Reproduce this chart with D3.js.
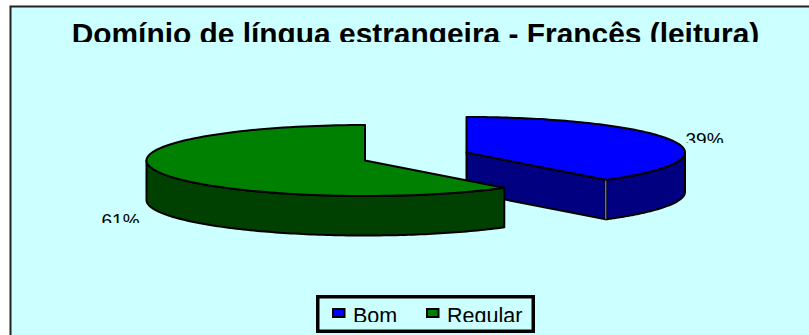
<!DOCTYPE html>
<html><head><meta charset="utf-8">
<script src="https://cdn.jsdelivr.net/npm/d3@7/dist/d3.min.js"></script>
<style>html,body{margin:0;padding:0;background:#fff}svg{display:block}text{font-family:"Liberation Sans",Arial,sans-serif}</style>
</head><body><div id="c"></div>
<script>
const title = "Domínio de língua estrangeira - Francês (leitura)";
const categories = ["Bom", "Regular"];
const values = [39, 61];
const labels = ["39%", "61%"];
const topColors = ["#0000ff", "#008000"];
const wallColors = ["#000080", "#004000"];
const W = 809, H = 335;
const svg = d3.select("#c").append("svg").attr("width", W).attr("height", H);
const defs = svg.append("defs");
function clip(id, x, y, w, h){ defs.append("clipPath").attr("id", id).append("rect").attr("x", x).attr("y", y).attr("width", w).attr("height", h); }
clip("cTitle", 0, 0, W, 42);
clip("cL0", 600, 100, 160, 43);
clip("cL1", 60, 190, 100, 33);
clip("cLeg", 0, 280, W, 42);

svg.append("rect").attr("x", 10.5).attr("y", 6.5).attr("width", W).attr("height", H)
  .attr("fill", "#ccffff").attr("stroke", "#222").attr("stroke-width", 2);

svg.append("text").attr("clip-path", "url(#cTitle)").attr("x", 415.5).attr("y", 43.5).attr("text-anchor", "middle")
  .attr("font-size", 29.9).attr("font-weight", "bold").attr("fill", "#000").text(title);

const rx = d3.scaleLinear().domain([0, 1]).range([0, 218.5]);
const ry = d3.scaleLinear().domain([0, 1]).range([0, 35.5]);
const depth = 39.5;
const centers = [[466.5, 152.5], [365, 160.5]];
const arcs = d3.pie().sort(null)(values);
const pt = (c, a, r = 1) => [c[0] + rx(r) * Math.sin(a), c[1] - ry(r) * Math.cos(a)];
const line = d3.line().curve(d3.curveLinear);
const samples = (a0, a1) => d3.range(0, 121).map(i => a0 + (a1 - a0) * i / 120);
const K = "#000", SW = 2;

arcs.forEach((d, i) => {
  const c = centers[i];
  const g = svg.append("g");
  const A = samples(d.startAngle, d.endAngle);
  const lo = Math.max(d.startAngle, Math.PI / 2), hi = Math.min(d.endAngle, Math.PI * 1.5);
  const rim = samples(lo, hi).map(a => pt(c, a));
  const wall = rim.concat(rim.slice().reverse().map(p => [p[0], p[1] + depth]));
  if (i === 0) {
    const cut = [c, pt(c, d.endAngle)];
    const cutPoly = cut.concat(cut.slice().reverse().map(p => [p[0], p[1] + depth]));
    g.append("path").attr("d", line(cutPoly) + "Z").attr("fill", wallColors[i]).attr("stroke", K).attr("stroke-width", SW).attr("stroke-linejoin", "round");
  }
  g.append("path").attr("d", line(wall) + "Z").attr("fill", wallColors[i]).attr("stroke", K).attr("stroke-width", SW).attr("stroke-linejoin", "round");
  if (i === 0) {
    const e = pt(c, d.endAngle);
    g.append("line").attr("x1", e[0]).attr("x2", e[0]).attr("y1", e[1]).attr("y2", e[1] + depth).attr("stroke", "#999").attr("stroke-width", 1);
  }
  const topPoly = [c].concat(A.map(a => pt(c, a)));
  g.append("path").attr("d", line(topPoly) + "Z").attr("fill", topColors[i]).attr("stroke", K).attr("stroke-width", SW).attr("stroke-linejoin", "round");
});

svg.append("text").attr("clip-path", "url(#cL0)").attr("x", 685.5).attr("y", 146).attr("font-size", 19).attr("fill", "#000").text(labels[0]);
svg.append("text").attr("clip-path", "url(#cL1)").attr("x", 101.5).attr("y", 227).attr("font-size", 19).attr("fill", "#000").text(labels[1]);

svg.append("rect").attr("x", 317.75).attr("y", 296.75).attr("width", 215.5).attr("height", 34.5)
  .attr("fill", "none").attr("stroke", "#000").attr("stroke-width", 3.5);
const legX = [332, 426];
categories.forEach((name, i) => {
  svg.append("rect").attr("x", legX[i] + 1).attr("y", 309).attr("width", 11.5).attr("height", 8)
    .attr("fill", topColors[i]).attr("stroke", "#000").attr("stroke-width", 2);
  svg.append("text").attr("clip-path", "url(#cLeg)").attr("x", legX[i] + 21).attr("y", 322.5)
    .attr("font-size", 21.5).attr("fill", "#000").text(name);
});
</script></body></html>
